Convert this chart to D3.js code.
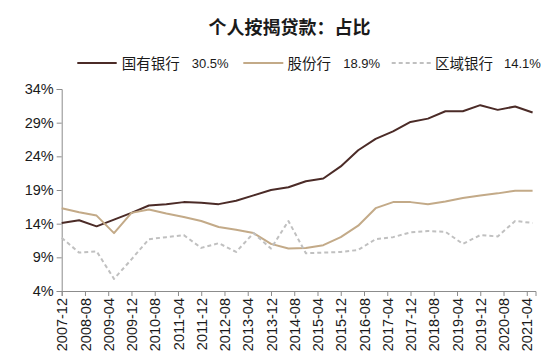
<!DOCTYPE html>
<html><head><meta charset="utf-8">
<script src="https://cdn.jsdelivr.net/npm/d3@7"></script>
<style>
html,body{margin:0;padding:0;background:#fff;}
svg{display:block;}
text{font-family:"Liberation Sans",Arial,"Noto Sans CJK SC",sans-serif;fill:#1a1a1a;}
.cjk{font-family:"Noto Sans CJK SC","Liberation Sans",sans-serif;}
</style></head>
<body>
<script>
const title = "个人按揭贷款：占比";
const dates = ["2007-12","2008-06","2008-12","2009-06","2009-12","2010-06","2010-12","2011-06","2011-12","2012-06",
  "2012-12","2013-06","2013-12","2014-06","2014-12","2015-06","2015-12","2016-06","2016-12","2017-06",
  "2017-12","2018-06","2018-12","2019-06","2019-12","2020-06","2020-12","2021-06"];
const seriesNames = ["国有银行","股份行","区域银行"];
const latestLabels = ["30.5%","18.9%","14.1%"];
const stateBanks = [14.1,14.5,13.6,14.6,15.6,16.7,16.9,17.2,17.1,16.9,17.4,18.2,19.0,19.4,20.3,20.7,22.5,24.9,26.6,27.7,29.1,29.6,30.7,30.7,31.6,30.9,31.4,30.5];
const jointStock = [16.3,15.7,15.2,12.6,15.6,16.1,15.5,15.0,14.4,13.5,13.1,12.6,11.0,10.3,10.4,10.8,12.0,13.7,16.3,17.2,17.2,16.9,17.3,17.8,18.2,18.5,18.9,18.9];
const regional = [11.9,9.7,9.9,5.8,8.7,11.7,12.0,12.3,10.4,11.1,9.8,12.6,10.3,14.4,9.6,9.7,9.8,10.1,11.7,12.0,12.7,12.9,12.8,11.0,12.3,12.1,14.4,14.1];
const tickLabels = ["2007-12","2008-08","2009-04","2009-12","2010-08","2011-04","2011-12","2012-08","2013-04","2013-12",
  "2014-08","2015-04","2015-12","2016-08","2017-04","2017-12","2018-08","2019-04","2019-12","2020-08","2021-04"];
const yTicks = [4,9,14,19,24,29,34];
const colors = ["#4b2b27","#c3aa88","#c0c0c0"];

const W=556,H=361;
const svg=d3.select("body").append("svg").attr("width",W).attr("height",H);
const mIdx = s => { const [y,m]=s.split("-").map(Number); return (y-2007)*12 + m - 12; };
const x=d3.scaleLinear().domain([0,163]).range([61.7,535.5]);
const y=d3.scaleLinear().domain([4,34]).range([291,89]);

// title
svg.append("text").attr("class","cjk").attr("x",289.5).attr("y",34).attr("text-anchor","middle")
  .attr("font-size",18).attr("font-weight","bold").text(title);

// axes
const yAxis=svg.append("g").attr("transform","translate(61.7,0)")
  .call(d3.axisLeft(y).tickValues(yTicks).tickSize(5).tickPadding(3).tickFormat(d=>d+"%"));
const xAxis=svg.append("g").attr("transform","translate(0,291)")
  .call(d3.axisBottom(x).tickValues(tickLabels.map(mIdx)).tickSize(5).tickFormat((d,i)=>tickLabels[i]));
[yAxis,xAxis].forEach(g=>{
  g.selectAll("path.domain").attr("stroke","#8c8c8c").attr("stroke-width",1);
  g.selectAll(".tick line").attr("stroke","#8c8c8c");
  g.selectAll("text").style("font-family","'Liberation Sans',Arial,sans-serif").attr("fill","#1a1a1a");
});
yAxis.selectAll("text").attr("font-size",14.5);
xAxis.selectAll("text").attr("font-size",14.5)
  .attr("transform","rotate(-90)").attr("text-anchor","end").attr("x",-7).attr("y",0).attr("dy","0.35em");

// lines
const all=[stateBanks,jointStock,regional];
const line=d3.line().x((d,i)=>x(mIdx(dates[i]))).y(d=>y(d));
all.forEach((vals,k)=>{
  svg.append("path").datum(vals).attr("d",line).attr("fill","none")
    .attr("stroke",colors[k]).attr("stroke-width",2)
    .attr("stroke-dasharray",k===2?"4,3":null).attr("stroke-linejoin","round");
});

// legend
const lg=[{x0:77.3,x1:116.7,tx:121.7,nx:191.7},{x0:243.3,x1:283.3,tx:287.5,nx:343.3},{x0:391.7,x1:431.7,tx:435,nx:504}];
lg.forEach((p,k)=>{
  svg.append("line").attr("x1",p.x0).attr("x2",p.x1).attr("y1",63).attr("y2",63)
    .attr("stroke",colors[k]).attr("stroke-width",2).attr("stroke-dasharray",k===2?"4,3":null);
  svg.append("text").attr("class","cjk").attr("x",p.tx).attr("y",68.5).attr("font-size",14.5).text(seriesNames[k]);
  svg.append("text").attr("x",p.nx).attr("y",67.5).attr("font-size",13).text(latestLabels[k]);
});
</script>
</body></html>
